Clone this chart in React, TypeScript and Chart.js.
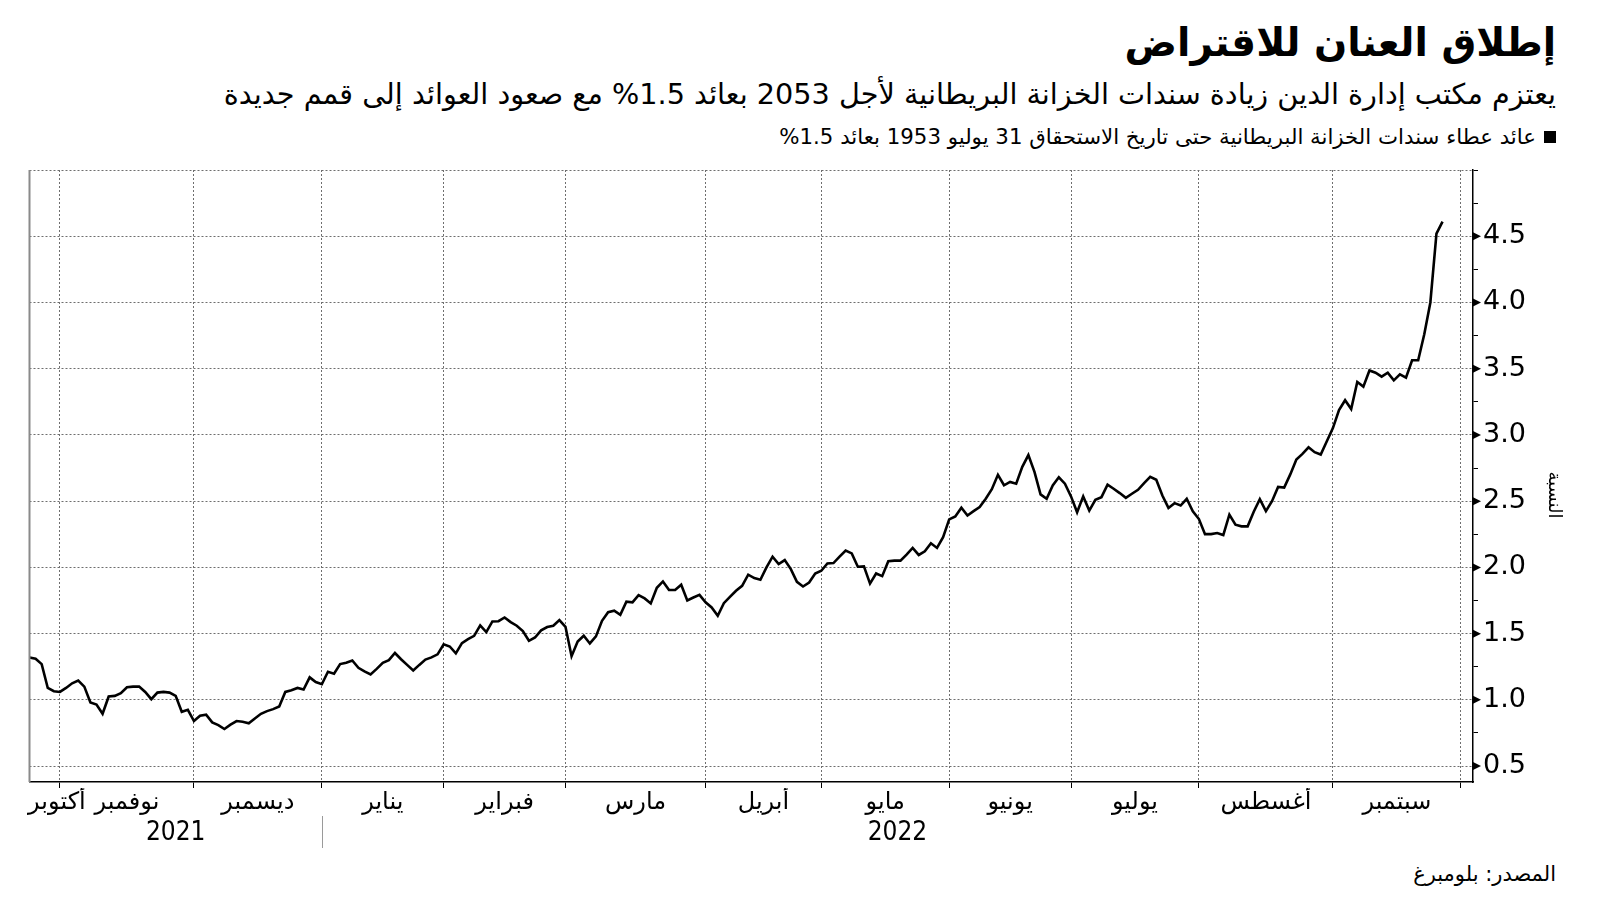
import React, { useEffect, useRef } from "react";
import { Chart, registerables } from "chart.js";

Chart.register(...registerables);

// ---- Data (UK gilt 1.5% 2053 yield, %, one value per trading day) ----
const yieldOct2021 = [1.32, 1.31, 1.27, 1.09, 1.065];
const yieldNov2021 = [1.06, 1.09, 1.125, 1.145, 1.10, 0.98, 0.965, 0.895, 1.025, 1.03, 1.05, 1.095, 1.10, 1.10, 1.06, 1.005, 1.055, 1.06, 1.055, 1.03, 0.91, 0.925];
const yieldDec2021 = [0.84, 0.88, 0.888, 0.83, 0.81, 0.78, 0.813, 0.84, 0.835, 0.823, 0.86, 0.895, 0.915, 0.93, 0.95, 1.06, 1.073, 1.09, 1.078, 1.17, 1.135];
const yieldJan2022 = [1.118, 1.212, 1.197, 1.27, 1.28, 1.297, 1.242, 1.215, 1.192, 1.234, 1.28, 1.30, 1.354, 1.307, 1.264, 1.222, 1.264, 1.304, 1.321, 1.344];
const yieldFeb2022 = [1.42, 1.403, 1.351, 1.428, 1.458, 1.483, 1.562, 1.512, 1.592, 1.594, 1.622, 1.587, 1.56, 1.52, 1.446, 1.471, 1.525, 1.55, 1.559, 1.602];
const yieldMar2022 = [1.552, 1.33, 1.44, 1.484, 1.426, 1.479, 1.597, 1.662, 1.673, 1.642, 1.741, 1.736, 1.791, 1.766, 1.728, 1.846, 1.894, 1.829, 1.829, 1.869, 1.751, 1.773, 1.793];
const yieldApr2022 = [1.736, 1.698, 1.635, 1.73, 1.778, 1.824, 1.861, 1.945, 1.919, 1.907, 2.0, 2.081, 2.025, 2.055, 1.987, 1.891, 1.856, 1.886, 1.954];
const yieldMay2022 = [1.975, 2.03, 2.033, 2.081, 2.127, 2.106, 2.005, 2.008, 1.878, 1.954, 1.934, 2.046, 2.051, 2.051, 2.096, 2.147, 2.094, 2.122, 2.182, 2.147, 2.228];
const yieldJun2022 = [2.362, 2.385, 2.451, 2.392, 2.425, 2.456, 2.519, 2.59, 2.699, 2.62, 2.645, 2.632, 2.759, 2.848, 2.721, 2.551, 2.518, 2.619, 2.68, 2.632];
const yieldJul2022 = [2.536, 2.416, 2.536, 2.429, 2.51, 2.53, 2.624, 2.594, 2.561, 2.525, 2.556, 2.586, 2.637, 2.683, 2.662, 2.543, 2.449, 2.485, 2.467, 2.518, 2.424];
const yieldAug2022 = [2.365, 2.251, 2.251, 2.259, 2.244, 2.398, 2.322, 2.31, 2.31, 2.42, 2.515, 2.425, 2.50, 2.607, 2.602, 2.702, 2.815, 2.857, 2.907, 2.87, 2.852, 2.952];
const yieldSep2022 = [3.052, 3.187, 3.262, 3.195, 3.40, 3.365, 3.487, 3.47, 3.44, 3.47, 3.412, 3.457, 3.432, 3.564, 3.564, 3.76, 4.00, 4.52, 4.61];

// Month axis: trading days per month (Oct 2021 partial ... Oct 2022 partial, unlabelled)
const monthLabels = ["أكتوبر", "نوفمبر", "ديسمبر", "يناير", "فبراير", "مارس", "أبريل", "مايو", "يونيو", "يوليو", "أغسطس", "سبتمبر"];
const tradingDaysPerMonth = [5, 22, 21, 20, 20, 23, 19, 21, 20, 21, 22, 21, 2];
const yearLabels = ["2021", "2022"];
const monthsPerYear = [3, 10];

const yMajorTicks = [0.5, 1.0, 1.5, 2.0, 2.5, 3.0, 3.5, 4.0, 4.5, 5.0];
const yMinorTicks = [0.75, 1.25, 1.75, 2.25, 2.75, 3.25, 3.75, 4.25, 4.75];
const yTickLabels = ["0.5", "1.0", "1.5", "2.0", "2.5", "3.0", "3.5", "4.0", "4.5", ""];
const yAxisMin = 0.38;
const yAxisMax = 5.0;

const titleText = "إطلاق العنان للاقتراض";
const subtitleText = "يعتزم مكتب إدارة الدين زيادة سندات الخزانة البريطانية لأجل 2053 بعائد 1.5% مع صعود العوائد إلى قمم جديدة";
const legendText = "عائد عطاء سندات الخزانة البريطانية حتى تاريخ الاستحقاق 31 يوليو 1953 بعائد 1.5%";
const yTitleText = "النسبة";
const sourceText = "المصدر: بلومبرغ";

// ---- derived helpers ----
const allYields = [
  ...yieldOct2021, ...yieldNov2021, ...yieldDec2021, ...yieldJan2022, ...yieldFeb2022, ...yieldMar2022,
  ...yieldApr2022, ...yieldMay2022, ...yieldJun2022, ...yieldJul2022, ...yieldAug2022, ...yieldSep2022,
];
const monthEdges: number[] = [0];
tradingDaysPerMonth.forEach((d) => monthEdges.push(monthEdges[monthEdges.length - 1] + d));
const xMin = 0;
const xMax = monthEdges[monthEdges.length - 1];
const boundaryTicks = monthEdges.slice(1, monthEdges.length - 1);
// the first (partial) month label is nudged inward so it does not spill past the frame
const firstLabelNudge = 2;
const monthCenters = monthLabels.map((_, i) => (monthEdges[i] + monthEdges[i + 1]) / 2 + (i === 0 ? firstLabelNudge : 0));
const yearEdges: number[] = [0];
monthsPerYear.forEach((m, i) => {
  const prevMonths = monthsPerYear.slice(0, i).reduce((a, b) => a + b, 0);
  yearEdges.push(monthEdges[prevMonths + m]);
});
const yearCenters = yearLabels.map((_, i) => (yearEdges[i] + yearEdges[i + 1]) / 2);

const FONT = "'DejaVu Sans', sans-serif";

const decorPlugin = {
  id: "decor",
  afterDraw(chart: any) {
    const { ctx, chartArea, scales } = chart;
    const y = scales.y;
    const x = scales.x;
    const xy = scales.xy;
    ctx.save();
    // left frame line
    ctx.strokeStyle = "#8a8a8a";
    ctx.lineWidth = 2;
    ctx.beginPath();
    ctx.moveTo(chartArea.left, chartArea.top);
    ctx.lineTo(chartArea.left, chartArea.bottom);
    ctx.stroke();
    // arrow ticks for labelled values
    ctx.fillStyle = "#000";
    yMajorTicks.forEach((v, i) => {
      if (!yTickLabels[i]) return;
      const py = y.getPixelForValue(v);
      ctx.beginPath();
      ctx.moveTo(chartArea.right, py - 4);
      ctx.lineTo(chartArea.right + 8, py);
      ctx.lineTo(chartArea.right, py + 4);
      ctx.closePath();
      ctx.fill();
    });
    // year separator
    const sx = Math.round(x.getPixelForValue(yearEdges[1])) + 0.5;
    ctx.strokeStyle = "#9a9a9a";
    ctx.lineWidth = 1;
    ctx.beginPath();
    ctx.moveTo(sx, xy.top - 2);
    ctx.lineTo(sx, xy.top + 30);
    ctx.stroke();
    // y axis title
    ctx.translate(chart.width - 46, (chartArea.top + chartArea.bottom) / 2 + 19);
    ctx.rotate(Math.PI / 2);
    ctx.font = "18px " + FONT;
    ctx.textAlign = "center";
    ctx.textBaseline = "middle";
    ctx.fillStyle = "#000";
    ctx.fillText(yTitleText, 0, 0);
    ctx.restore();
  },
};

export default function App() {
  const canvasRef = useRef<HTMLCanvasElement | null>(null);

  useEffect(() => {
    if (!canvasRef.current) return;
    const chart = new Chart(canvasRef.current, {
      type: "line",
      data: {
        datasets: [
          {
            data: allYields.map((v, i) => ({ x: i, y: v })),
            borderColor: "#000",
            borderWidth: 2.6,
            pointRadius: 0,
            tension: 0,
            xAxisID: "x",
            yAxisID: "y",
          },
        ],
      },
      options: {
        responsive: false,
        animation: false,
        devicePixelRatio: 1,
        layout: { padding: { left: 29.5, top: 170, right: 0, bottom: 43 } },
        plugins: { legend: { display: false }, tooltip: { enabled: false }, title: { display: false } },
        scales: {
          x: {
            type: "linear",
            position: "bottom",
            weight: 0,
            min: xMin,
            max: xMax,
            afterBuildTicks: (s: any) => {
              s.ticks = boundaryTicks.map((v) => ({ value: v }));
            },
            afterFit: (s: any) => {
              s.height = 6;
            },
            ticks: { callback: () => "", autoSkip: false },
            grid: {
              color: "#6e6e6e",
              lineWidth: 1,
              drawTicks: true,
              tickLength: 6,
              tickColor: "#000",
              tickBorderDash: [],
            },
            border: { display: true, color: "#000", width: 1.5, dash: [2, 2] },
          },
          xm: {
            type: "linear",
            position: "bottom",
            weight: 1,
            min: xMin,
            max: xMax,
            afterBuildTicks: (s: any) => {
              s.ticks = monthCenters.map((v) => ({ value: v }));
            },
            afterFit: (s: any) => {
              s.height = 30;
            },
            ticks: {
              callback: (_v: any, i: number) => monthLabels[i],
              autoSkip: false,
              maxRotation: 0,
              minRotation: 0,
              padding: 0,
              color: "#000",
              font: { family: FONT, size: 24 },
            },
            grid: { display: false, drawTicks: false },
            border: { display: false },
          },
          xy: {
            type: "linear",
            position: "bottom",
            weight: 2,
            min: xMin,
            max: xMax,
            afterBuildTicks: (s: any) => {
              s.ticks = yearCenters.map((v) => ({ value: v }));
            },
            afterFit: (s: any) => {
              s.height = 40;
            },
            ticks: {
              callback: (_v: any, i: number) => yearLabels[i],
              autoSkip: false,
              maxRotation: 0,
              minRotation: 0,
              padding: 0,
              color: "#000",
              font: { family: "'DejaVu Sans Condensed', 'DejaVu Sans', sans-serif", size: 26 },
            },
            grid: { display: false, drawTicks: false },
            border: { display: false },
          },
          y: {
            type: "linear",
            position: "right",
            min: yAxisMin,
            max: yAxisMax,
            afterBuildTicks: (s: any) => {
              s.ticks = [...yMajorTicks, ...yMinorTicks].sort((a, b) => a - b).map((v) => ({ value: v }));
            },
            afterFit: (s: any) => {
              s.width = 127;
            },
            ticks: {
              callback: (v: any) => {
                const i = yMajorTicks.indexOf(Number(v));
                return i >= 0 ? yTickLabels[i] : "";
              },
              autoSkip: false,
              padding: 5,
              color: "#000",
              font: { family: FONT, size: 27 },
            },
            grid: {
              color: (c: any) => (c.tick && yMajorTicks.includes(c.tick.value) ? "#6e6e6e" : "rgba(0,0,0,0)"),
              lineWidth: 1,
              drawTicks: true,
              tickLength: 5,
              tickColor: (c: any) => (c.tick && yMajorTicks.includes(c.tick.value) && c.tick.value < 5 ? "rgba(0,0,0,0)" : "#000"),
              tickBorderDash: [],
            },
            border: { display: true, color: "#000", width: 1.5, dash: [2, 2] },
          },
        },
      },
      plugins: [decorPlugin],
    });
    return () => chart.destroy();
  }, []);

  const textBase: React.CSSProperties = {
    position: "absolute",
    right: 44,
    direction: "rtl",
    whiteSpace: "nowrap",
    color: "#000",
    fontFamily: FONT,
    lineHeight: 1,
  };

  return (
    <div style={{ position: "fixed", left: 0, top: 0, width: 1600, height: 901, background: "#fff", overflow: "hidden" }}>
      <div style={{ ...textBase, top: 23, fontSize: 39, fontWeight: 700 }}>{titleText}</div>
      <div style={{ ...textBase, top: 80, fontSize: 28.7 }}>{subtitleText}</div>
      <div style={{ ...textBase, top: 126, fontSize: 21.3, display: "flex", alignItems: "center", gap: 8 }}>
        <span style={{ display: "inline-block", width: 12, height: 12, background: "#000" }} />
        <span>{legendText}</span>
      </div>
      <div style={{ ...textBase, top: 864, fontSize: 21 }}>{sourceText}</div>
      <canvas ref={canvasRef} width={1600} height={901} style={{ position: "absolute", left: 0, top: 0 }} />
    </div>
  );
}
